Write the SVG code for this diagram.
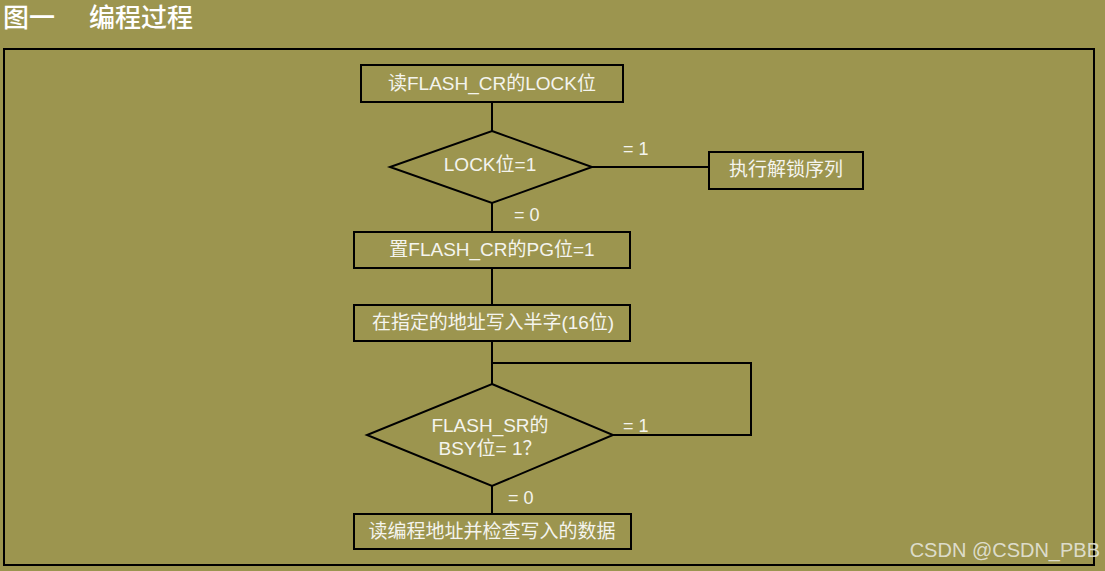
<svg xmlns="http://www.w3.org/2000/svg" width="1105" height="571" viewBox="0 0 1105 571">
<style>
.bg{fill:#9c954f}
.box{fill:#9c954f;stroke:#000;stroke-width:2}
.ln{fill:none;stroke:#000;stroke-width:2}
.t{font-family:"Liberation Sans","Noto Sans CJK SC",sans-serif;font-size:19px;fill:#f4f4ee;text-anchor:middle}
.lbl{font-family:"Liberation Sans","Noto Sans CJK SC",sans-serif;font-size:18px;fill:#f4f4ee}
.title{font-family:"Noto Sans CJK SC","Liberation Sans",sans-serif;font-size:26px;font-weight:500;fill:#ffffff}
.wm{font-family:"Liberation Sans","Noto Sans CJK SC",sans-serif;font-size:20px;fill:#e6e6dc}
</style>
<rect class="bg" x="0" y="0" width="1105" height="571"/>
<text class="title" x="3" y="27">图一</text>
<text class="title" x="89" y="27">编程过程</text>
<rect x="4" y="49" width="1090" height="516" fill="none" stroke="#000" stroke-width="2"/>
<g id="connectors">
<line class="ln" x1="492" y1="102" x2="492" y2="131"/>
<line class="ln" x1="592" y1="167" x2="709" y2="167"/>
<line class="ln" x1="492" y1="203" x2="492" y2="232"/>
<line class="ln" x1="492" y1="268" x2="492" y2="305"/>
<line class="ln" x1="492" y1="341" x2="492" y2="384"/>
<polyline class="ln" points="613,435 751,435 751,363 492,363"/>
<line class="ln" x1="492" y1="486" x2="492" y2="514"/>
<text class="lbl" x="623" y="155">= 1</text>
<text class="lbl" x="514" y="221">= 0</text>
<text class="lbl" x="623" y="432">= 1</text>
<text class="lbl" x="508" y="504">= 0</text>
</g>
<g id="n1">
<rect class="box" x="361" y="65" width="262" height="37"/>
<text class="t" x="492" y="90">读FLASH_CR的LOCK位</text>
</g>
<g id="d1">
<polygon class="box" points="492,131 592,167 492,203 390,167"/>
<text class="t" x="490" y="171">LOCK位=1</text>
</g>
<g id="n2">
<rect class="box" x="709" y="152" width="154" height="37"/>
<text class="t" x="786" y="176">执行解锁序列</text>
</g>
<g id="n3">
<rect class="box" x="354" y="232" width="276" height="36"/>
<text class="t" x="492" y="256">置FLASH_CR的PG位=1</text>
</g>
<g id="n4">
<rect class="box" x="354" y="305" width="276" height="36"/>
<text class="t" x="493" y="329" textLength="242" lengthAdjust="spacing">在指定的地址写入半字(16位)</text>
</g>
<g id="d2">
<polygon class="box" points="492,384 613,435 492,486 367,435"/>
<text class="t" x="490" y="432">FLASH_SR的</text>
<text class="t" x="490" y="455">BSY位= 1？</text>
</g>
<g id="n5">
<rect class="box" x="354" y="514" width="277" height="35"/>
<text class="t" x="492" y="538">读编程地址并检查写入的数据</text>
</g>
<text class="wm" x="1100" y="557" text-anchor="end" fill-opacity="0.9">CSDN @CSDN_PBB</text>
</svg>
